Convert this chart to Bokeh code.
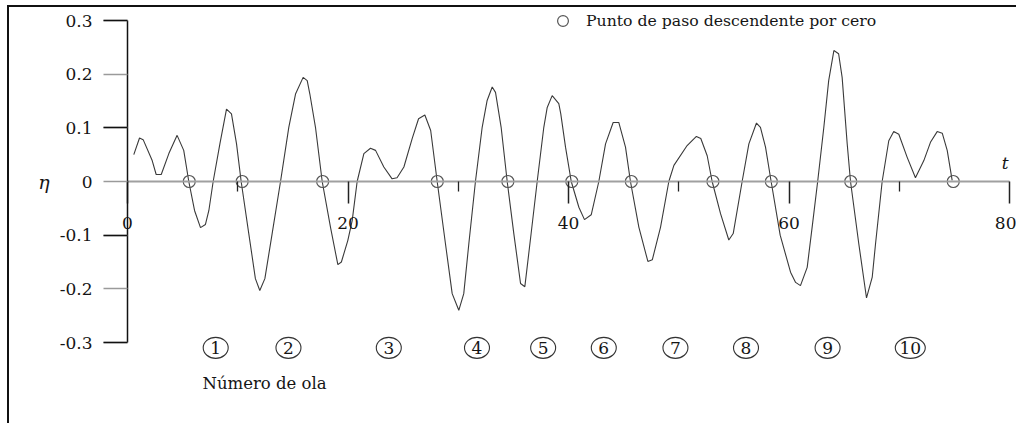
from bokeh.plotting import figure
from bokeh.models import LinearAxis, FixedTicker, Range1d
from bokeh.core.properties import value
from bokeh.embed import file_html
from bokeh.resources import INLINE

# ---------------- data ----------------
t_vals = [0.57, 1.09, 1.42, 2.24, 2.6, 3.06, 3.75, 4.5, 5.1, 5.56,
          6.08, 6.62, 7.07, 7.38, 7.77, 8.38, 8.98, 9.43, 9.89, 10.31,
          11.0, 11.6, 12.0, 12.46, 13.12, 13.88, 14.63, 15.24, 15.93, 16.3,
          16.54, 17.05, 17.66, 18.41, 19.08, 19.4, 19.98, 20.38, 20.83, 21.44,
          22.04, 22.5, 23.25, 24.0, 24.45, 25.07, 25.82, 26.4, 26.97, 27.5,
          28.09, 28.84, 29.45, 30.05, 30.5, 30.96, 31.56, 32.17, 32.62, 33.08,
          33.38, 33.89, 34.44, 35.04, 35.65, 36.04, 36.61, 37.16, 37.76, 38.07,
          38.52, 39.12, 39.3, 39.73, 40.25, 40.94, 41.45, 42.06, 42.75, 43.36,
          44.05, 44.56, 45.17, 45.62, 46.38, 47.2, 47.6, 48.35, 49.1, 49.56,
          50.76, 51.6, 52.0, 52.58, 53.03, 53.79, 54.54, 54.94, 55.75, 56.36,
          57.05, 57.41, 57.87, 58.38, 59.2, 60.14, 60.6, 61.04, 61.65, 62.1,
          62.6, 63.16, 63.6, 64.07, 64.5, 64.82, 65.28, 65.58, 66.33, 67.03,
          67.55, 67.85, 68.45, 69.05, 69.5, 69.96, 70.72, 71.47, 72.23, 72.83,
          73.44, 73.9, 74.35, 74.8]
eta_vals = [0.050, 0.081, 0.078, 0.039, 0.013, 0.013, 0.052, 0.086, 0.058, 0.0,
            -0.054, -0.086, -0.080, -0.054, 0.0, 0.070, 0.135, 0.126, 0.070, 0.0,
            -0.097, -0.181, -0.203, -0.181, -0.097, 0.0, 0.101, 0.163, 0.194, 0.188,
            0.163, 0.101, 0.0, -0.085, -0.155, -0.150, -0.110, -0.073, 0.0, 0.052,
            0.062, 0.058, 0.027, 0.005, 0.007, 0.027, 0.080, 0.117, 0.124, 0.095,
            0.0, -0.116, -0.209, -0.240, -0.209, -0.116, 0.0, 0.101, 0.151, 0.176,
            0.166, 0.101, 0.0, -0.097, -0.190, -0.196, -0.097, 0.0, 0.101, 0.138,
            0.160, 0.145, 0.126, 0.064, 0.0, -0.048, -0.071, -0.062, 0.0, 0.070,
            0.110, 0.110, 0.064, 0.0, -0.085, -0.149, -0.146, -0.085, 0.0, 0.030,
            0.067, 0.084, 0.080, 0.048, 0.0, -0.060, -0.109, -0.097, 0.0, 0.070,
            0.109, 0.101, 0.064, 0.0, -0.100, -0.169, -0.188, -0.194, -0.160, -0.085,
            0.0, 0.101, 0.188, 0.244, 0.238, 0.194, 0.070, 0.0, -0.116, -0.217,
            -0.178, -0.116, 0.0, 0.076, 0.093, 0.088, 0.045, 0.007, 0.039, 0.073,
            0.093, 0.090, 0.058, 0.002]

zero_cross_t = [5.6, 10.4, 17.7, 28.1, 34.5, 40.3, 45.7, 53.1, 58.4, 65.6, 74.9]

wave_t = [8.0, 14.6, 23.7, 31.7, 37.7, 43.2, 49.7, 56.1, 63.5, 71.0]
wave_labels = ["1", "2", "3", "4", "5", "6", "7", "8", "9", "10"]
wave_eta = -0.31

x_ticks = [0, 20, 40, 60, 80]
x_minor_ticks = [10, 30, 50, 70]
y_ticks = [0.3, 0.2, 0.1, 0.0, -0.2, -0.1, -0.3]
y_dark_ticks = [0.3, 0.1, -0.1, -0.3]
y_tick_labels = {0.3: "0.3", 0.2: "0.2", 0.1: "0.1", 0.0: "0",
                 -0.1: "-0.1", -0.2: "-0.2", -0.3: "-0.3"}

legend_text = "Punto de paso descendente por cero"
wave_caption = "Número de ola"
caption_pos = (6.8, -0.376)
t_label_pos = (79.6, 0.034)

# ---------------- layout ----------------
W, H = 1009, 418
PX_T = 882 / 80.0         # pixels per unit of t
PX_E = 322 / 0.6          # pixels per unit of eta
x0 = -118 / PX_T
y1 = 0.3 + 13 / PX_E

FONT = "DejaVu Serif"

p = figure(width=W, height=H, output_backend="svg", toolbar_location=None,
           x_range=Range1d(x0, x0 + W / PX_T), y_range=Range1d(y1 - H / PX_E, y1),
           x_axis_location=None, y_axis_location=None, min_border=0)
p.grid.visible = False
p.outline_line_color = None
p.background_fill_color = "white"
p.border_fill_color = "white"
p.styles = {"border-left": "2px solid #111", "border-top": "2px solid #111",
            "margin-left": "7px", "margin-top": "5px"}

# y axis at t = 0
yax = LinearAxis(fixed_location=0,
                 ticker=FixedTicker(ticks=y_ticks, minor_ticks=y_dark_ticks),
                 bounds=(-0.3, 0.3))
yax.major_label_overrides = y_tick_labels
yax.axis_line_color = "#111"
yax.axis_line_width = 1.5
yax.major_tick_line_color = "#9a9a9a"
yax.major_tick_line_width = 1.5
yax.major_tick_out = 24
yax.major_tick_in = 0
yax.minor_tick_line_color = "#111"
yax.minor_tick_line_width = 1.5
yax.minor_tick_out = 24
yax.minor_tick_in = 0
yax.major_label_standoff = 11
yax.major_label_text_font = FONT
yax.major_label_text_font_size = "17px"
yax.major_label_text_color = "#151515"
yax.axis_label = "η"
yax.axis_label_orientation = "horizontal"
yax.axis_label_standoff = 7
yax.axis_label_text_font = FONT
yax.axis_label_text_font_style = "italic"
yax.axis_label_text_font_size = "19px"
yax.axis_label_text_color = "#151515"
p.add_layout(yax, "left")

# x axis at eta = 0
xax = LinearAxis(fixed_location=0,
                 ticker=FixedTicker(ticks=x_ticks, minor_ticks=x_minor_ticks),
                 bounds=(0, 80))
xax.axis_line_color = "#a0a0a0"
xax.axis_line_width = 2
xax.major_tick_line_color = "#222"
xax.major_tick_line_width = 1.5
xax.major_tick_out = 22
xax.major_tick_in = 0
xax.minor_tick_line_color = "#222"
xax.minor_tick_line_width = 1.3
xax.minor_tick_out = 10
xax.minor_tick_in = 0
xax.major_label_standoff = 13
xax.major_label_text_font = FONT
xax.major_label_text_font_size = "17px"
xax.major_label_text_color = "#151515"
p.add_layout(xax, "below")

# wave record
p.line(t_vals, eta_vals, line_color="#3a3a3a", line_width=1.1)

# zero down-crossing points
p.scatter(zero_cross_t, [0.0] * len(zero_cross_t), marker="circle", size=12,
          fill_color=None, line_color="#555555", line_width=1.2,
          legend_label=legend_text)

# wave numbers
widths = [30 if len(s) > 1 else 25 for s in wave_labels]
p.ellipse(wave_t, [wave_eta] * len(wave_t), width=widths, height=21,
          width_units="screen", height_units="screen",
          fill_color=None, line_color="#333333", line_width=1.1)
p.text(wave_t, [wave_eta] * len(wave_t), text=wave_labels,
       text_font=value(FONT), text_font_size="17px", text_color="#151515",
       text_align="center", text_baseline="middle")

p.text([caption_pos[0]], [caption_pos[1]], text=[wave_caption],
       text_font=value(FONT), text_font_size="16.5px", text_color="#151515",
       text_align="left", text_baseline="middle")
p.text([t_label_pos[0]], [t_label_pos[1]], text=["t"],
       text_font=value(FONT), text_font_style="italic", text_font_size="17px",
       text_color="#151515", text_align="center", text_baseline="middle")

# legend
lg = p.legend[0]
lg.location = (540, H - 27)
lg.padding = 0
lg.margin = 0
lg.spacing = 0
lg.glyph_width = 27
lg.glyph_height = 27
lg.label_standoff = 10
lg.label_height = 20
lg.border_line_color = None
lg.background_fill_alpha = 0
lg.label_text_font = FONT
lg.label_text_font_size = "15.7px"
lg.label_text_color = "#151515"

open("out.html", "w").write(file_html(p, INLINE))
